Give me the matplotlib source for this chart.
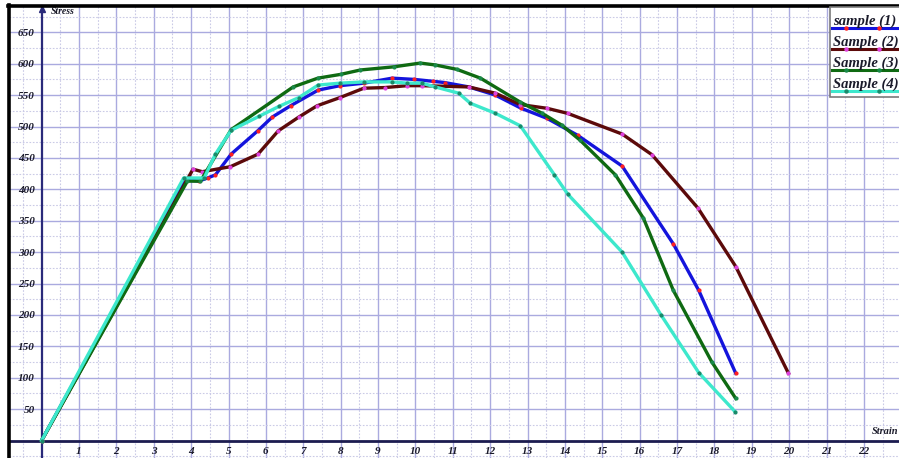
"""Stress-strain curves for four tensile samples on a graph-paper grid."""

import matplotlib

matplotlib.use("Agg")
import matplotlib.pyplot as plt
from matplotlib.lines import Line2D
from matplotlib.patches import Rectangle
from matplotlib.ticker import MultipleLocator, FixedLocator


W, H = 899, 458

SAMPLE_LABELS = ["sample (1)", "Sample (2)", "Sample (3)", "Sample (4)"]

strain_1 = [0, 3.85, 4.2, 4.44, 4.65, 5.07, 5.78, 6.17, 6.66, 7.4, 7.98, 8.62,
            9.38, 9.97, 10.46, 10.78, 11.43, 12.14, 12.83, 13.52, 14.34,
            15.53, 16.9, 17.58, 18.57]
stress_1 = [0, 415, 413, 418, 423, 456, 493, 515, 533, 558, 565, 569,
            577, 575, 572, 570, 563, 550, 529, 513, 486,
            437, 313, 239, 107]

strain_2 = [0, 4.05, 4.3, 5.05, 5.79, 6.33, 6.88, 7.37, 7.98, 8.62, 9.18,
            9.78, 10.18, 11.43, 12.14, 12.8, 13.52, 14.07, 15.53, 16.33,
            17.56, 18.57, 19.98]
stress_2 = [0, 432, 428, 436, 456, 493, 515, 533, 546, 561, 562,
            565, 565, 563, 553, 535, 529, 521, 488, 455,
            370, 277, 107]

strain_3 = [0, 3.9, 4.25, 5.07, 6.73, 7.39, 8.0, 8.53, 9.42, 10.13, 10.53,
            11.11, 11.74, 12.8, 13.39, 13.92, 14.41, 15.35, 16.1, 16.9,
            17.93, 18.57]
stress_3 = [0, 413, 413, 495, 563, 577, 583, 590, 595, 601, 598,
            591, 577, 539, 521, 502, 478, 423, 354, 239,
            125, 67]

strain_4 = [0, 3.8, 4.35, 4.65, 5.07, 5.81, 6.35, 6.88, 7.4, 7.98, 8.62,
            9.38, 9.78, 10.18, 10.53, 11.16, 11.47, 12.14, 12.81, 13.72,
            14.08, 15.53, 16.57, 17.58, 18.55]
stress_4 = [0, 418, 418, 456, 494, 516, 532, 546, 566, 569, 571,
            571, 569, 569, 563, 553, 537, 521, 501, 423,
            392, 300, 200, 108, 46]

X_TICKS = list(range(1, 23))
Y_TICKS = list(range(50, 651, 50))

LINE_COLORS = ["#1414dc", "#5c0a0a", "#0f6a12", "#3de8cc"]
DOT_COLORS = ["#ff2020", "#e040e0", "#1a8a4a", "#1a8a6a"]

FONT = dict(family="Liberation Serif", weight="bold", style="italic")


def fig_xy(px, py):
    """Pixel position (from top-left) to figure fraction."""
    return px / W, 1 - py / H


def main():
    fig = plt.figure(figsize=(W / 100, H / 100), dpi=100)
    fig.patch.set_facecolor("white")

    # axes fill the area inside the black frame (left edge x=9px, top y=6px)
    ax = fig.add_axes([9 / W, 0, (W - 9) / W, (H - 6) / H])
    x_per_px = 1 / 37.38
    y_per_px = 1 / 0.628
    x0_px, y0_px = 41.6, 440.5
    ax.set_xlim((9 - x0_px) * x_per_px, (W - x0_px) * x_per_px)
    ax.set_ylim(-(H - y0_px) * y_per_px, (y0_px - 6) * y_per_px)

    ax.xaxis.set_major_locator(FixedLocator(X_TICKS))
    ax.yaxis.set_major_locator(FixedLocator(Y_TICKS))
    ax.xaxis.set_minor_locator(MultipleLocator(0.5))
    ax.yaxis.set_minor_locator(MultipleLocator(25))
    ax.grid(which="major", color="#aaaadf", linewidth=1.0, zorder=0)
    ax.grid(which="minor", color="#cacae6", linewidth=0.8,
            linestyle=(0, (1.5, 1.5)), zorder=0)
    ax.set_axisbelow(True)

    for side in ("top", "right"):
        ax.spines[side].set_visible(False)
    ax.spines["left"].set_position(("data", 0))
    ax.spines["bottom"].set_position(("data", 0))
    ax.spines["left"].set_color("#2a2a7a")
    ax.spines["left"].set_linewidth(1.6)
    ax.spines["bottom"].set_color("#1c1c50")
    ax.spines["bottom"].set_linewidth(2.0)
    ax.tick_params(which="both", length=0)
    ax.tick_params(axis="x", pad=5)
    ax.tick_params(axis="y", pad=5)
    for lab in ax.get_xticklabels() + ax.get_yticklabels():
        lab.set_fontfamily(FONT["family"])
        lab.set_fontweight("bold")
        lab.set_fontstyle("italic")
        lab.set_fontsize(8)
        lab.set_color("#1a1a2a")

    # arrowhead on top of the stress axis
    ax.plot(0, ax.get_ylim()[1] - 4, marker="^", markersize=5,
            color="#2a2a7a", clip_on=False, zorder=5)

    series = [(strain_1, stress_1), (strain_2, stress_2),
              (strain_3, stress_3), (strain_4, stress_4)]
    for (sx, sy), lc, dc in zip(series, LINE_COLORS, DOT_COLORS):
        ax.plot(sx, sy, color=lc, linewidth=2.4, marker="o", markersize=2.0,
                markerfacecolor=dc, markeredgecolor=dc, zorder=3)

    ax.text(0.25, 683, "Stress", fontsize=7, ha="left", va="center",
            color="#1a1a2a", **FONT)
    ax.text(22.93, 14, "Strain", fontsize=7.5, ha="right", va="center",
            color="#1a1a2a", **FONT)

    # black frame on the top and left edges
    fig.add_artist(Line2D([8 / W, 1], [1 - 6 / H] * 2, color="black",
                          linewidth=2.6, transform=fig.transFigure))
    fig.add_artist(Line2D([8.5 / W] * 2, [0, 1 - 5 / H], color="black",
                          linewidth=2.6, transform=fig.transFigure))

    # legend: label text above its coloured sample line
    bx, by = fig_xy(830, 97)
    fig.add_artist(Rectangle((bx, by), (W + 10 - 830) / W, 90 / H,
                             facecolor="white", edgecolor="#7a7a7a",
                             linewidth=1.2, transform=fig.transFigure,
                             zorder=10))
    line_rows = [27.5, 48.5, 69.5, 90.5]
    for label, row, lc, dc in zip(SAMPLE_LABELS, line_rows, LINE_COLORS,
                                  DOT_COLORS):
        tx, ty = fig_xy(833, row - 2.5)
        fig.text(tx, ty, label, fontsize=10.5, ha="left", va="baseline",
                 color="#1a1a2a", zorder=11, **FONT)
        lx0, ly = fig_xy(832, row)
        fig.add_artist(Line2D([lx0, 1], [ly, ly], color=lc, linewidth=2.2,
                              transform=fig.transFigure, zorder=11))
        fig.add_artist(Line2D([846 / W, 879 / W], [ly, ly], linestyle="none",
                              marker="o", markersize=2.2,
                              markerfacecolor=dc, markeredgecolor=dc,
                              transform=fig.transFigure, zorder=12))

    fig.savefig("out.png", dpi=100, facecolor="white")
    plt.close(fig)


if __name__ == "__main__":
    main()
